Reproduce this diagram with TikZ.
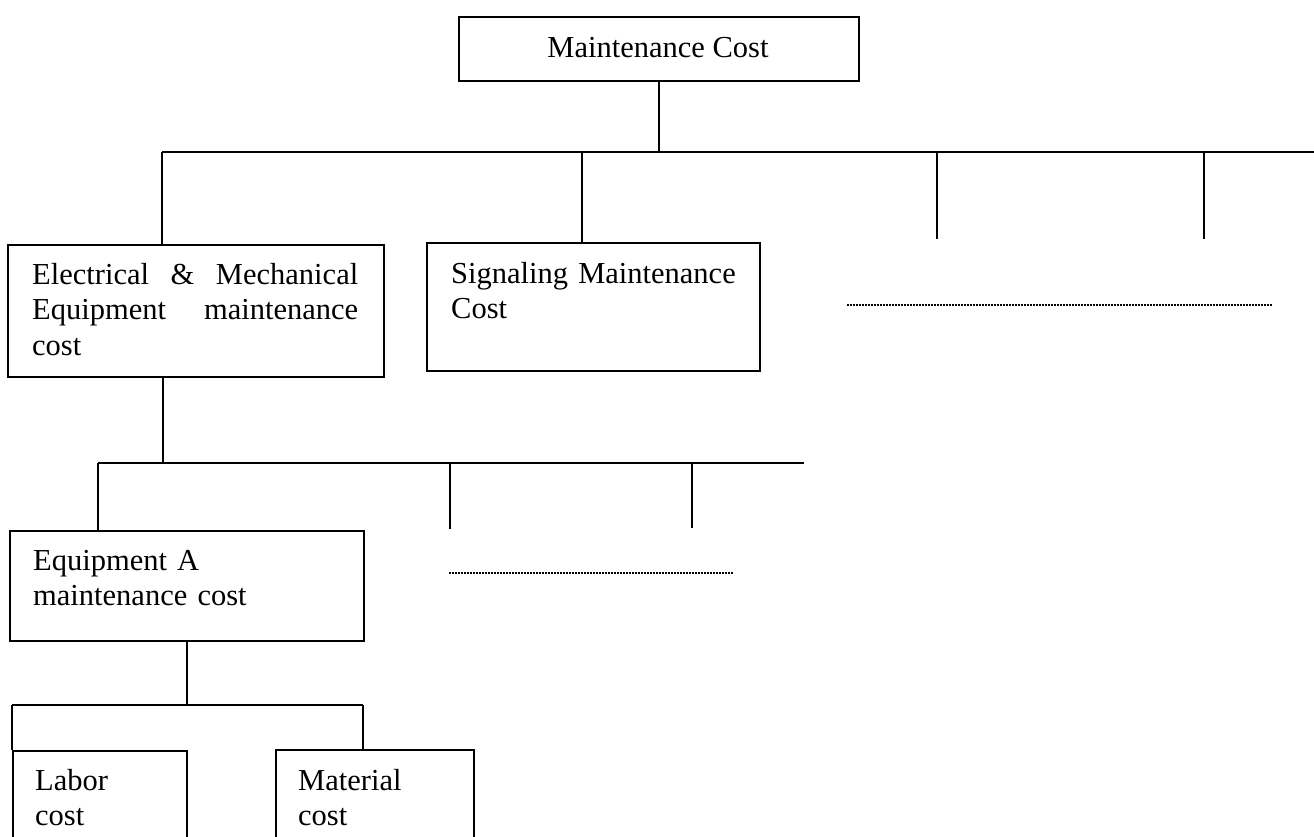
\documentclass[tikz,border=0pt]{standalone}
\usepackage{fontspec}
\setmainfont{Liberation Serif}
\begin{document}
\begin{tikzpicture}[x=1pt,y=-1pt,
  box/.style={draw, line width=2.4pt, rectangle, anchor=north west, inner sep=0pt},
  lbl/.style={anchor=base west, inner sep=0pt, align=left,
              font=\fontsize{30.5}{35.5}\selectfont},
  link/.style={line width=2.4pt},
  etc/.style={line width=2.6pt, dash pattern=on 1.6pt off 1.4pt}]
\useasboundingbox (0,0) rectangle (1314,836);
\clip (0,0) rectangle (1314,836);
\fill[white] (0,0) rectangle (1314,836);

% ---- boxes ----
\node[box, minimum width=400pt, minimum height=64pt] (mc) at (458,16) {};
\node[box, minimum width=376pt, minimum height=132pt] (em) at (7,244) {};
\node[box, minimum width=333pt, minimum height=128pt] (sig) at (426,242) {};
\node[box, minimum width=354pt, minimum height=110pt] (eqa) at (9,530) {};
\node[box, minimum width=174pt, minimum height=150pt] (lab) at (12,750) {};
\node[box, minimum width=198pt, minimum height=150pt] (mat) at (275,749) {};

% ---- labels ----
\node[lbl, anchor=base] (mct) at (658,57) {Maintenance Cost};
\node[lbl, text width=326pt] (emt) at (32,284)
  {Electrical\hfill\&\hfill Mechanical\\Equipment\hfill maintenance\\cost};
\node[lbl, text width=300pt] (sigt) at (451,283) {Signaling Maintenance\\Cost};
\node[lbl, text width=300pt] (eqat) at (33,570) {Equipment A\\maintenance cost};
\node[lbl, text width=140pt] (labt) at (35,790) {Labor\\cost};
\node[lbl, text width=160pt] (matt) at (298,790) {Material\\cost};

% ---- first level ----
\coordinate (j1) at (162,152);
\coordinate (j2) at (582,152);
\coordinate (j3) at (937,152);
\coordinate (j4) at (1204,152);
\coordinate (b1r) at (1320,152);
\coordinate (e3) at (937,239);
\coordinate (e4) at (1204,239);
\draw[link] (mc.south) -- (mc.south |- j1);
\draw[link] (j1) -- (b1r);
\draw[link] (j1) -- (j1 |- em.north);
\draw[link] (j2) -- (j2 |- sig.north);
\draw[link] (j3) -- (e3);
\draw[link] (j4) -- (e4);
\coordinate (dl1) at (847,305);
\coordinate (dr1) at (1272,305);
\draw[etc] (dl1) -- (dr1);

% ---- second level ----
\coordinate (s1) at (163,463);
\coordinate (k1) at (98,463);
\coordinate (k2) at (450,463);
\coordinate (k3) at (692,463);
\coordinate (b2r) at (804,463);
\coordinate (f2) at (450,529);
\coordinate (f3) at (692,528);
\draw[link] (s1 |- em.south) -- (s1);
\draw[link] (k1) -- (b2r);
\draw[link] (k1) -- (k1 |- eqa.north);
\draw[link] (k2) -- (f2);
\draw[link] (k3) -- (f3);
\coordinate (dl2) at (449,573);
\coordinate (dr2) at (733,573);
\draw[etc] (dl2) -- (dr2);

% ---- third level ----
\coordinate (s2) at (187,705);
\coordinate (m1) at (12,705);
\coordinate (m2) at (363,705);
\draw[link] (s2 |- eqa.south) -- (s2);
\draw[link] (m1) -- (m2);
\draw[link] (m1) -- (m1 |- lab.north);
\draw[link] (m2) -- (m2 |- mat.north);
\end{tikzpicture}
\end{document}
